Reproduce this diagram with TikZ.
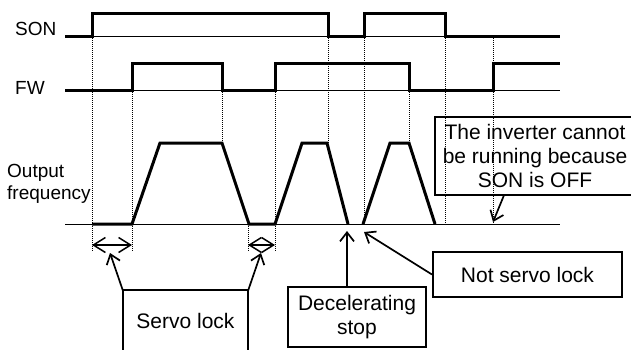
\documentclass[tikz,border=0pt]{standalone}
\usepackage{fontspec}
\setmainfont{Liberation Sans}
\usetikzlibrary{arrows.meta}
\begin{document}
\begin{tikzpicture}[x=1pt,y=-1pt,
 sig/.style={line width=3pt},
 base/.style={line width=0.9pt},
 guide/.style={line width=0.7pt, dash pattern=on 1pt off 1pt},
 lbl/.style={font=\fontsize{19}{21.5}\selectfont, inner sep=0pt, anchor=west, align=left},
 txt/.style={font=\fontsize{21}{24}\selectfont, align=center, inner sep=0pt},
 box/.style={txt, draw, line width=2pt},
 edge/.style={line width=2pt},
 arr/.style={line width=1.7pt, -{Straight Barb[length=9pt,width=14pt]}},
 span/.style={line width=1.5pt, {Straight Barb[length=12pt,width=15pt]}-{Straight Barb[length=12pt,width=15pt]}}]
\useasboundingbox (0,0) rectangle (631,349);
\clip (0,0) rectangle (631,349);
% guides
\foreach \x/\a/\b in {92/36/252,132/90/252,222/90/143,248/224/252,275/90/252,328/36/143,364/36/224,409/90/143,445/36/224,493/36/224}
  \draw[guide] (\x,\a) -- (\x,\b);
% baselines
\draw[base] (65,36) -- (560,36);
\draw[base] (65,90) -- (560,90);
\draw[base] (65,224) -- (560,224);
% signals
\draw[sig] (65,36) -- (92,36) -- (92,13) -- (328,13) -- (328,36) -- (364,36) -- (364,13) -- (445,13) -- (445,36) -- (560,36);
\draw[sig] (65,90) -- (132,90) -- (132,63) -- (222,63) -- (222,90) -- (275,90) -- (275,63) -- (409,63) -- (409,90) -- (493,90) -- (493,63) -- (560,63);
\draw[sig] (92,224) -- (132,224) -- (160,143) -- (222,143) -- (249,224) -- (275,224) -- (302,143) -- (327,143) -- (348,224);
\draw[sig] (363,224) -- (390,143) -- (409,143) -- (435,224);
% labels
\node[lbl] (son) at (15,29) {SON};
\node[lbl] (fw) at (15,88) {FW};
\node[lbl] (of) at (7,184) {Output\\frequency};
% boxes
\node[txt, minimum width=125, minimum height=60] (servo) at (185.5,320.5) {Servo lock};
\draw[edge] (servo.south west) -- (servo.north west) -- (servo.north east) -- (servo.south east);
\node[txt, minimum width=200, minimum height=78] (inv) at (535,156) {The inverter cannot\\be running because\\SON is OFF};
\draw[edge] (inv.north east) -- (inv.north west) -- (inv.south west) -- (inv.south east);
\node[box, minimum width=138, minimum height=60] (dec) at (357,317) {Decelerating\\stop};
\node[box, minimum width=189, minimum height=45] (nsl) at (527.5,274.5) {Not servo lock};
% targets
\coordinate (t1) at (110,253);
\coordinate (t2) at (261,253);
\coordinate (t3) at (347,231);
\coordinate (t4) at (364,232);
\coordinate (t5) at (493,222);
\coordinate (a1) at (92,245);
\coordinate (b1) at (132,245);
\coordinate (a2) at (248,245);
\coordinate (b2) at (275,245);
\draw[arr] (servo.north west) -- (t1);
\draw[arr] (servo.north east) -- (t2);
\draw[arr] (dec.north -| t3) -- (t3);
\draw[arr] (nsl.west) -- (t4);
\draw[arr] ([xshift=-31pt]inv.south) -- (t5);
\draw[span] (a1) -- (b1);
\draw[span] (a2) -- (b2);
\end{tikzpicture}
\end{document}
